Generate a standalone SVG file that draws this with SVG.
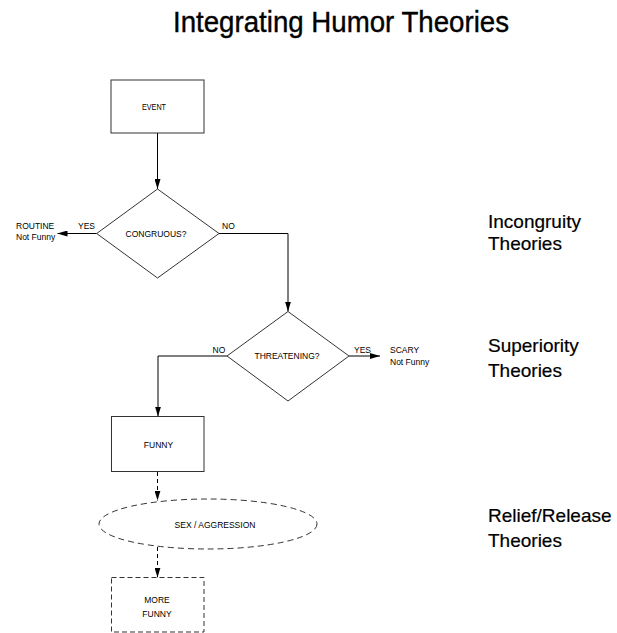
<svg xmlns="http://www.w3.org/2000/svg" width="617" height="633" viewBox="0 0 617 633">
<style>
.shape{fill:#fff;stroke:#333;stroke-width:1}
.dash{fill:#fff;stroke:#333;stroke-width:1;stroke-dasharray:6 4}
.dash2{fill:#fff;stroke:#333;stroke-width:1;stroke-dasharray:5 3}
.line{fill:none;stroke:#000;stroke-width:1}
.dline{fill:none;stroke:#000;stroke-width:1;stroke-dasharray:4 3}
.s{font-family:"Liberation Sans",Arial,sans-serif;font-size:8.5px;fill:#000}
.m{text-anchor:middle}
.big{font-family:"Liberation Sans",Arial,sans-serif;font-size:19px;fill:#000;stroke:#000;stroke-width:0.2}
.title{font-family:"Liberation Sans",Arial,sans-serif;font-size:30px;fill:#000;stroke:#000;stroke-width:0.4}
</style>
<defs>
<marker id="arr" viewBox="0 0 10 6" refX="10" refY="3" markerWidth="10" markerHeight="6" markerUnits="userSpaceOnUse" orient="auto">
<path d="M0,0 L10,3 L0,6 Z" fill="#000"/>
</marker>
</defs>
<rect width="617" height="633" fill="#fff"/>
<text class="title" x="173" y="32" textLength="336" lengthAdjust="spacingAndGlyphs">Integrating Humor Theories</text>

<g id="connectors">
<path class="line" d="M157.5,133 V189" marker-end="url(#arr)"/>
<path class="line" d="M96.7,233.5 H57.5" marker-end="url(#arr)"/>
<path class="line" d="M219,233.5 H288 V311.5" marker-end="url(#arr)"/>
<path class="line" d="M349,356 H380" marker-end="url(#arr)"/>
<path class="line" d="M227,356 H158 V416.5" marker-end="url(#arr)"/>
<path class="dline" d="M157.5,472 V500.5" marker-end="url(#arr)"/>
<path class="dline" d="M157.5,547 V577.5" marker-end="url(#arr)"/>
<text class="s" x="78" y="228.5">YES</text>
<text class="s" x="222" y="228.5">NO</text>
<text class="s" x="212.5" y="352.5">NO</text>
<text class="s" x="354" y="353">YES</text>
</g>

<g id="event">
<rect class="shape" x="111" y="80" width="93" height="53"/>
<text class="s m" x="154" y="110" textLength="24" lengthAdjust="spacingAndGlyphs">EVENT</text>
</g>
<g id="congruous">
<polygon class="shape" points="157.5,189 219,233.5 157.5,278 96.7,233.5"/>
<text class="s m" x="156" y="236.5">CONGRUOUS?</text>
</g>
<g id="routine">
<text class="s" x="16" y="228.5">ROUTINE</text>
<text class="s" x="16" y="239.5">Not Funny</text>
</g>
<g id="threatening">
<polygon class="shape" points="288,311.5 349,356 288,401 227,356"/>
<text class="s m" x="287" y="359">THREATENING?</text>
</g>
<g id="scary">
<text class="s" x="390" y="352.5">SCARY</text>
<text class="s" x="390" y="365">Not Funny</text>
</g>
<g id="funny">
<rect class="shape" x="111.5" y="416.5" width="92.5" height="55"/>
<text class="s m" x="158.5" y="447.5">FUNNY</text>
</g>
<g id="sex-aggression">
<ellipse class="dash" cx="208" cy="524" rx="109" ry="25"/>
<text class="s m" x="215" y="527.5">SEX / AGGRESSION</text>
</g>
<g id="more-funny">
<rect class="dash2" x="111.5" y="577.5" width="92.5" height="54.5"/>
<text class="s m" x="157" y="602.5">MORE</text>
<text class="s m" x="157" y="616.5">FUNNY</text>
</g>

<g id="theories">
<text class="big" x="488" y="228">Incongruity</text>
<text class="big" x="488" y="250">Theories</text>
<text class="big" x="488" y="352">Superiority</text>
<text class="big" x="488" y="377">Theories</text>
<text class="big" x="488" y="522">Relief/Release</text>
<text class="big" x="488" y="547">Theories</text>
</g>
</svg>
